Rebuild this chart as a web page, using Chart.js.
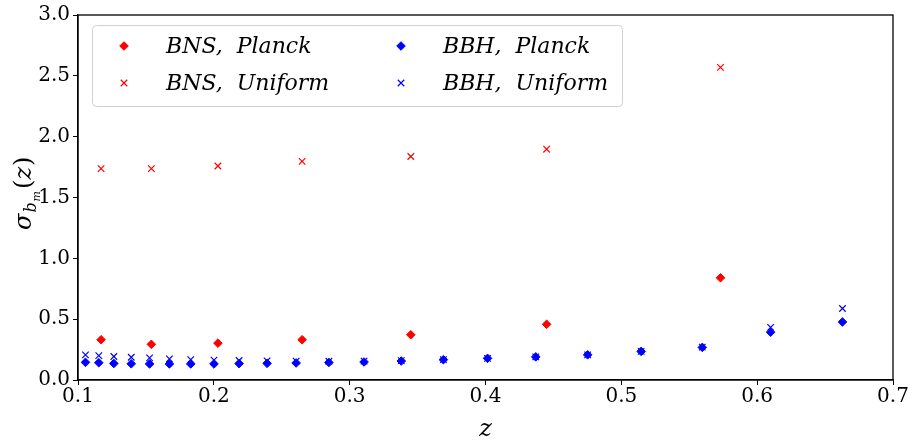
<!DOCTYPE html>
<html>
<head>
<meta charset="utf-8">
<script src="https://cdn.jsdelivr.net/npm/chart.js@4/dist/chart.umd.min.js"></script>
<style>
  body { margin: 0; background: #fff; }
  #wrap { width: 909px; height: 443px; }
</style>
</head>
<body>
<div id="wrap"><canvas id="chart" width="909" height="443"></canvas></div>
<script>
// redshift bins
const zBNS = [0.117, 0.154, 0.203, 0.265, 0.345, 0.445, 0.573];
const zBBH = [0.1055, 0.1153, 0.1264, 0.1392, 0.1527, 0.1673, 0.183, 0.2001, 0.2186, 0.2392, 0.2606,
              0.2847, 0.3106, 0.338, 0.369, 0.4015, 0.437, 0.4752, 0.5146, 0.5596, 0.6099, 0.6628];

// sigma_bm(z)
const bnsPlanck  = [0.331, 0.293, 0.303, 0.331, 0.372, 0.458, 0.840];
const bnsUniform = [1.737, 1.737, 1.759, 1.797, 1.837, 1.897, 2.569];
const bbhPlanck  = [0.145, 0.142, 0.136, 0.133, 0.132, 0.132, 0.132, 0.132, 0.135, 0.137, 0.140,
                    0.144, 0.148, 0.156, 0.167, 0.178, 0.190, 0.207, 0.235, 0.268, 0.393, 0.477];
const bbhUniform = [0.207, 0.200, 0.193, 0.187, 0.182, 0.174, 0.168, 0.163, 0.160, 0.157, 0.155,
                    0.154, 0.155, 0.159, 0.168, 0.178, 0.190, 0.207, 0.235, 0.270, 0.433, 0.588];

const labels = ["BNS,  Planck", "BNS,  Uniform", "BBH,  Planck", "BBH,  Uniform"];
const xTicks = [0.1, 0.2, 0.3, 0.4, 0.5, 0.6, 0.7];
const yTicks = [0.0, 0.5, 1.0, 1.5, 2.0, 2.5, 3.0];

const RED = "#ff0000", BLUE = "#0000ff";
const tickFont = { family: "DejaVu Serif", size: 20 };

function pts(xs, ys) {
    return xs.map((x, i) => ({ x: x, y: ys[i] }));
}

function diamond(label, xs, ys, color) {
    return { label: label, data: pts(xs, ys), pointStyle: "rectRot", pointRadius: 4.3,
             backgroundColor: color, borderColor: color, borderWidth: 1 };
}

function cross(label, xs, ys, color) {
    return { label: label, data: pts(xs, ys), pointStyle: "crossRot", pointRadius: 4.6,
             backgroundColor: color, borderColor: color, borderWidth: 1.2 };
}

// box around the plot + axis titles
const framePlugin = {
    id: "frame",
    afterDraw(chart) {
        const ctx = chart.ctx, a = chart.chartArea;
        ctx.save();
        ctx.strokeStyle = "#000";
        ctx.lineWidth = 1.3;
        ctx.strokeRect(a.left, a.top, a.right - a.left, a.bottom - a.top);

        ctx.fillStyle = "#000";
        ctx.textAlign = "center";
        ctx.textBaseline = "alphabetic";
        ctx.font = "italic 24px 'DejaVu Serif'";
        ctx.fillText("z", (a.left + a.right) / 2, 436);

        // sigma_{b_m}(z), rotated
        ctx.translate(31, 230);
        ctx.rotate(-Math.PI / 2);
        ctx.textAlign = "left";
        let x = 0;
        ctx.font = "italic 24px 'DejaVu Serif'";
        ctx.fillText("σ", x, 0);
        x += ctx.measureText("σ").width + 1;
        ctx.font = "italic 16px 'DejaVu Serif'";
        ctx.fillText("b", x, 5);
        x += ctx.measureText("b").width + 1;
        ctx.font = "italic 11px 'DejaVu Serif'";
        ctx.fillText("m", x, 9);
        x += ctx.measureText("m").width + 2;
        ctx.font = "24px 'DejaVu Serif'";
        ctx.fillText("(", x, 0);
        x += ctx.measureText("(").width;
        ctx.font = "italic 24px 'DejaVu Serif'";
        ctx.fillText("z", x, 0);
        x += ctx.measureText("z").width + 1;
        ctx.font = "24px 'DejaVu Serif'";
        ctx.fillText(")", x, 0);
        ctx.restore();
    }
};

// legend inside the axes, two columns filled column-wise
const legendPlugin = {
    id: "inLegend",
    afterDatasetsDraw(chart) {
        const ctx = chart.ctx;
        const left = 92, top = 25, w = 530, h = 81;
        ctx.save();
        ctx.fillStyle = "rgba(255,255,255,0.8)";
        ctx.strokeStyle = "#d0d0d0";
        ctx.lineWidth = 1;
        ctx.beginPath();
        ctx.roundRect(left + 0.5, top + 0.5, w, h, 4);
        ctx.fill();
        ctx.stroke();

        const cols = [124, 401], rows = [46, 83];
        ctx.font = "italic 22px 'DejaVu Serif'";
        ctx.textBaseline = "middle";
        chart.data.datasets.forEach((ds, i) => {
            const cx = cols[Math.floor(i / 2)], cy = rows[i % 2];
            ctx.fillStyle = ds.backgroundColor;
            ctx.strokeStyle = ds.borderColor;
            ctx.lineWidth = ds.borderWidth;
            ctx.beginPath();
            if (ds.pointStyle === "rectRot") {
                const r = ds.pointRadius;
                ctx.moveTo(cx, cy - r); ctx.lineTo(cx + r, cy);
                ctx.lineTo(cx, cy + r); ctx.lineTo(cx - r, cy);
                ctx.closePath(); ctx.fill(); ctx.stroke();
            } else {
                const d = ds.pointRadius * Math.SQRT1_2;
                ctx.moveTo(cx - d, cy - d); ctx.lineTo(cx + d, cy + d);
                ctx.moveTo(cx + d, cy - d); ctx.lineTo(cx - d, cy + d);
                ctx.stroke();
            }
            ctx.fillStyle = "#000";
            ctx.fillText(ds.label, cx + 42, cy + 1);
        });
        ctx.restore();
    }
};

new Chart(document.getElementById("chart"), {
    type: "scatter",
    data: {
        datasets: [
            diamond(labels[0], zBNS, bnsPlanck, RED),
            cross(labels[1], zBNS, bnsUniform, RED),
            diamond(labels[2], zBBH, bbhPlanck, BLUE),
            cross(labels[3], zBBH, bbhUniform, BLUE)
        ]
    },
    options: {
        responsive: false,
        animation: false,
        layout: { padding: { left: 0, right: 16, top: 11, bottom: 0 } },
        plugins: { legend: { display: false }, tooltip: { enabled: false } },
        scales: {
            x: {
                type: "linear",
                min: xTicks[0],
                max: xTicks[xTicks.length - 1],
                afterBuildTicks: s => { s.ticks = xTicks.map(v => ({ value: v })); },
                afterFit: s => { s.height = 63; },
                ticks: { font: tickFont, color: "#000", padding: 0, maxRotation: 0,
                         callback: v => v.toFixed(1) },
                grid: { drawOnChartArea: false, tickLength: 5, color: "#000" },
                border: { color: "#000", width: 1.3 }
            },
            y: {
                min: yTicks[0],
                max: yTicks[yTicks.length - 1],
                afterBuildTicks: s => { s.ticks = yTicks.map(v => ({ value: v })); },
                afterFit: s => { s.width = 78; },
                ticks: { font: tickFont, color: "#000", padding: 3,
                         callback: v => v.toFixed(1) },
                grid: { drawOnChartArea: false, tickLength: 5, color: "#000" },
                border: { color: "#000", width: 1.3 }
            }
        }
    },
    plugins: [framePlugin, legendPlugin]
});
</script>
</body>
</html>
